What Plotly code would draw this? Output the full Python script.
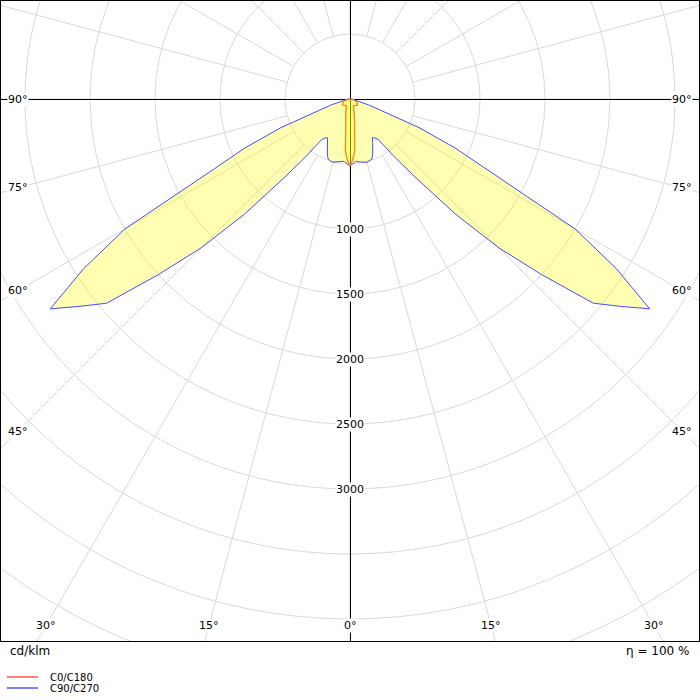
import numpy as np
import plotly.graph_objects as go

# luminous intensity distribution, cd/klm, gamma in degrees (0 = nadir)
gamma = [0, 2.5, 5, 7.5, 10, 12.5, 15, 17.5, 20, 22.5, 25, 27.5, 30, 32.5, 35, 37.5,
         40, 42.5, 45, 47.5, 50, 52.5, 55, 57.5, 60, 62.5, 65, 67.5, 70, 72.5, 75,
         77.5, 80, 82.5, 85, 87.5, 90]
c0_c180 = [515, 468, 405, 270, 200, 160, 134, 112, 92, 72, 62, 58, 58, 60, 62, 64,
           66, 68, 70, 72, 73, 73, 72, 70, 67, 63, 60, 56, 52, 46, 40,
           34, 28, 21, 14, 7, 0]
c90_c270 = [515, 498, 483, 484, 490, 498, 504, 500, 492, 456, 413, 378, 345, 355, 382, 560,
            800, 1200, 1620, 2000, 2444, 2620, 2814, 2430, 2000, 1220, 893, 575, 250, 150, 60,
            35, 22, 14, 8, 4, 0]

ring_values = [500, 1000, 1500, 2000, 2500, 3000, 3500, 4000, 4500, 5000]
ring_labels = [1000, 1500, 2000, 2500, 3000]
side_angles = [90, 75, 60, 45]
bottom_angles = [30, 15, 0]
series_names = ["C0/C180", "C90/C270"]
eta_text = "η = 100 %"
unit_text = "cd/klm"

# layout / pixel scale: 130 px per 1000 cd/klm
W, H = 700, 700
L, R, T, B = 1, 1, 1, 59
px = 0.13
plot_w = W - L - R
plot_h = H - T - B
cx_px = 349            # centre from left of plot area
cy_px = 98             # centre from top of plot area
x_range = [-cx_px / px, (plot_w - cx_px) / px]
y_range = [-(plot_h - cy_px) / px, cy_px / px]

FONT = "DejaVu Sans"
GRID = "#d9d9d9"


def curve_xy(values):
    g = np.radians(np.array(gamma, dtype=float))
    v = np.array(values, dtype=float)
    # one half on the left, mirrored half on the right
    xl = -v * np.sin(g)
    yl = -v * np.cos(g)
    x = np.concatenate([xl, -xl[::-1]])
    y = np.concatenate([yl, yl[::-1]])
    return x, y


fig = go.Figure()

xb, yb = curve_xy(c90_c270)
xr, yr = curve_xy(c0_c180)

# red outline first so the yellow fill tints it, like the original
fig.add_trace(go.Scatter(x=xr, y=yr, mode="lines",
                         line=dict(color="rgb(255,60,20)", width=1.3),
                         hoverinfo="skip"))
fig.add_trace(go.Scatter(x=xb, y=yb, mode="lines", fill="toself",
                         fillcolor="rgba(255,255,0,0.3)",
                         line=dict(color="#4a4aff", width=1),
                         hoverinfo="skip"))
fig.add_trace(go.Scatter(x=xr, y=yr, mode="lines", fill="toself",
                         fillcolor="rgba(255,255,0,0.3)",
                         line=dict(color="rgba(255,140,40,0.6)", width=1),
                         hoverinfo="skip"))

shapes = []
for r in ring_values:
    shapes.append(dict(type="circle", xref="x", yref="y", x0=-r, x1=r, y0=-r, y1=r,
                       line=dict(color=GRID, width=1), layer="below"))
for a in range(0, 360, 15):
    t = np.radians(a)
    shapes.append(dict(type="line", xref="x", yref="y",
                       x0=500 * np.sin(t), y0=-500 * np.cos(t),
                       x1=6000 * np.sin(t), y1=-6000 * np.cos(t),
                       line=dict(color=GRID, width=1), layer="below"))


def to_paper(xp, yp):
    return (xp - L) / plot_w, 1 - (yp - T) / plot_h


# legend samples below the frame
for i, col in enumerate(["#ff0000", "#0000ff"]):
    yy = 677 + 11 * i
    x0, y0 = to_paper(7, yy)
    x1, _ = to_paper(38, yy)
    shapes.append(dict(type="line", xref="paper", yref="paper", x0=x0, x1=x1, y0=y0, y1=y0,
                       line=dict(color=col, width=1)))

ann = []
for v in ring_labels:
    ann.append(dict(x=0, y=-v, text=str(v), showarrow=False, bgcolor="white",
                    font=dict(size=11, color="#000", family=FONT), borderpad=0))

side_x = 332 / px
for a in side_angles:
    yv = 0 if a == 90 else -side_x / np.tan(np.radians(a))
    for s in (-1, 1):
        ann.append(dict(x=s * side_x, y=yv, text=f"{a}°", showarrow=False, bgcolor="white",
                        font=dict(size=11, color="#000", family=FONT), borderpad=0))

bottom_y = -526 / px
for a in bottom_angles:
    xv = -bottom_y * np.tan(np.radians(a))
    for s in ((-1, 1) if a else (1,)):
        ann.append(dict(x=s * xv, y=bottom_y, text=f"{a}°", showarrow=False, bgcolor="white",
                        font=dict(size=11, color="#000", family=FONT), borderpad=0))

xp, yp = to_paper(8, 651)
ann.append(dict(x=xp, y=yp, xref="paper", yref="paper", text=unit_text, showarrow=False,
                xanchor="left", yanchor="middle", font=dict(size=12, color="#000", family=FONT)))
xp, yp = to_paper(691, 651)
ann.append(dict(x=xp, y=yp, xref="paper", yref="paper", text=eta_text, showarrow=False,
                xanchor="right", yanchor="middle", font=dict(size=12, color="#000", family=FONT)))
for i, name in enumerate(series_names):
    xp, yp = to_paper(48, 677 + 11 * i)
    ann.append(dict(x=xp, y=yp, xref="paper", yref="paper", text=name, showarrow=False,
                    xanchor="left", yanchor="middle", font=dict(size=10, color="#000", family=FONT)))

axis_common = dict(showgrid=False, zeroline=True, zerolinecolor="black", zerolinewidth=1,
                   showticklabels=False, ticks="", showline=True, mirror=True,
                   linecolor="black", linewidth=1, fixedrange=True)

fig.update_layout(
    width=W, height=H,
    margin=dict(l=L, r=R, t=T, b=B),
    paper_bgcolor="white", plot_bgcolor="white",
    showlegend=False,
    xaxis=dict(range=x_range, **axis_common),
    yaxis=dict(range=y_range, **axis_common),
    shapes=shapes,
    annotations=ann,
    hovermode=False,
)

# page body has a default 8px margin; drop it so the figure sits at the top-left corner
fig.write_html("out.html", config={"displayModeBar": False},
               post_script="document.body.style.margin='0px';document.body.style.overflow='hidden';")
